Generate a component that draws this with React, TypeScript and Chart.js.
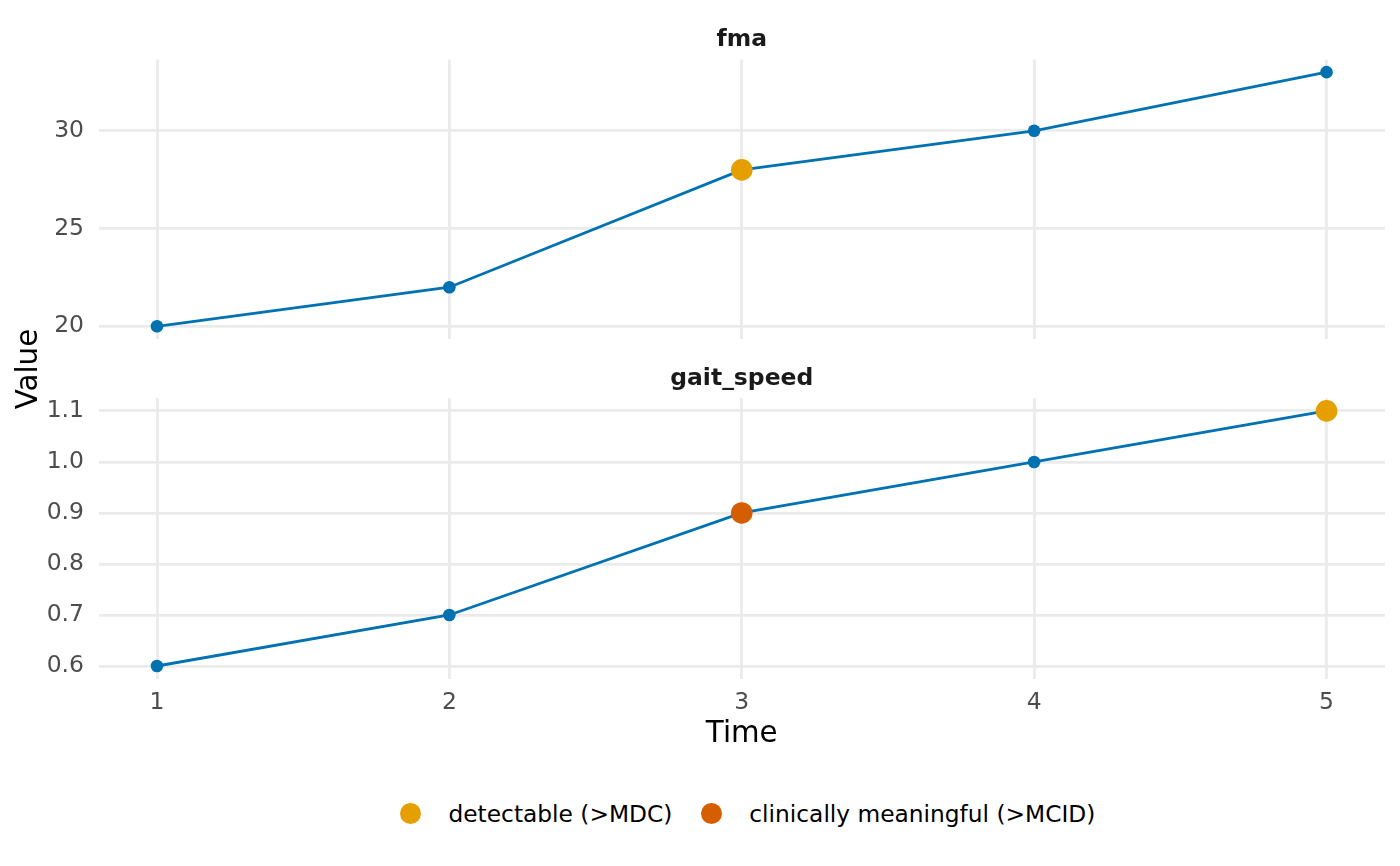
import { useEffect, useRef } from 'react';
import { Chart, registerables } from 'chart.js';

Chart.register(...registerables);
Chart.defaults.font.family = "'DejaVu Sans', sans-serif";

// data
const timePoints = [1, 2, 3, 4, 5];
const fmaValues = [20, 22, 28, 30, 33];
const gaitValues = [0.6, 0.7, 0.9, 1.0, 1.1];
// change flag per time point: '' none, 'mdc' detectable, 'mcid' clinically meaningful
const fmaFlags = ['', '', 'mdc', '', ''];
const gaitFlags = ['', '', 'mcid', '', 'mdc'];

const timeTicks = [1, 2, 3, 4, 5];
const fmaTicks = [20, 25, 30];
const gaitTicks = [0.6, 0.7, 0.8, 0.9, 1.0, 1.1];

const legendLabels = ['detectable (>MDC)', 'clinically meaningful (>MCID)'];
const legendFlags = ['mdc', 'mcid'];

const LINE = '#0072B2';
const FLAG_COLORS: Record<string, string> = { mdc: '#E69F00', mcid: '#D55E00' };
const GRID = '#ebebeb';
const TICK_SIZE = 23.47;
const TITLE_SIZE = 29.33;

// ggplot-style 5% expansion of the scale limits
function expand(values: number[]) {
  const lo = Math.min(...values);
  const hi = Math.max(...values);
  const pad = (hi - lo) * 0.05;
  return { min: lo - pad, max: hi + pad };
}

interface PanelProps {
  strip: string;
  values: number[];
  flags: string[];
  yTicks: number[];
  digits: number;
  bottom: boolean;
  height: number;
  areaBottom: number;
}

function Panel({ strip, values, flags, yTicks, digits, bottom, height, areaBottom }: PanelProps) {
  const canvasRef = useRef<HTMLCanvasElement>(null);

  useEffect(() => {
    if (!canvasRef.current) return;
    const xr = expand(timePoints);
    const yr = expand(values);

    const chart = new Chart(canvasRef.current, {
      type: 'line',
      data: {
        datasets: [
          {
            data: timePoints.map((t, i) => ({ x: t, y: values[i] })),
            borderColor: LINE,
            borderWidth: 2.8,
            pointRadius: flags.map((f) => (f ? 10.8 : 6.3)),
            pointBackgroundColor: flags.map((f) => (f ? FLAG_COLORS[f] : LINE)),
            pointBorderWidth: 0,
            pointHoverRadius: flags.map((f) => (f ? 10.8 : 6.3)),
            tension: 0,
            clip: false,
          },
        ],
      },
      options: {
        animation: false,
        responsive: true,
        maintainAspectRatio: false,
        layout: { padding: { left: 0, right: 15, top: 0, bottom: 0 } },
        plugins: {
          legend: { display: false },
          tooltip: { enabled: false },
          title: {
            display: true,
            text: strip,
            fullSize: false,
            color: '#1a1a1a',
            font: { size: TICK_SIZE, weight: 'bold' },
            padding: bottom ? { top: 20, bottom: 5 } : { top: 26, bottom: 5.3 },
          },
        },
        scales: {
          x: {
            type: 'linear',
            min: xr.min,
            max: xr.max,
            afterBuildTicks: (scale) => {
              scale.ticks = timeTicks.map((v) => ({ value: v }));
            },
            afterFit: (scale) => {
              scale.height = height - areaBottom;
            },
            grid: { color: GRID, lineWidth: 2.84, drawTicks: false },
            border: { display: false },
            ticks: {
              display: bottom,
              color: '#4d4d4d',
              font: { size: TICK_SIZE },
              padding: 10,
              callback: (v) => String(v),
            },
            title: {
              display: bottom,
              text: 'Time',
              color: '#000',
              font: { size: TITLE_SIZE },
              padding: { top: 0, bottom: 13 },
            },
          },
          y: {
            type: 'linear',
            min: yr.min,
            max: yr.max,
            afterBuildTicks: (scale) => {
              scale.ticks = yTicks.map((v) => ({ value: v }));
            },
            afterFit: (scale) => {
              scale.width = 98.5;
            },
            grid: { color: GRID, lineWidth: 2.84, drawTicks: false },
            border: { display: false },
            ticks: {
              color: '#4d4d4d',
              font: { size: TICK_SIZE },
              padding: 14.5,
              callback: (v) => Number(v).toFixed(digits),
            },
          },
        },
      },
    });

    return () => chart.destroy();
  }, [strip, values, flags, yTicks, digits, bottom, height, areaBottom]);

  return (
    <div style={{ position: 'relative', width: 1400, height }}>
      <canvas ref={canvasRef} />
    </div>
  );
}

export default function App() {
  return (
    <div
      style={{
        position: 'absolute',
        left: 0,
        top: 0,
        width: 1400,
        height: 866,
        background: '#fff',
        fontFamily: "'DejaVu Sans', sans-serif",
      }}
    >
      <div style={{ position: 'absolute', left: 0, top: 0 }}>
        <Panel strip="fma" values={fmaValues} flags={fmaFlags} yTicks={fmaTicks} digits={0} bottom={false} height={380} areaBottom={339} />
      </div>
      <div style={{ position: 'absolute', left: 0, top: 345 }}>
        <Panel strip="gait_speed" values={gaitValues} flags={gaitFlags} yTicks={gaitTicks} digits={1} bottom={true} height={420} areaBottom={333.75} />
      </div>

      {/* shared y title */}
      <div
        style={{
          position: 'absolute',
          left: 26.7 - 100,
          top: 369 - 20,
          width: 200,
          height: 40,
          lineHeight: '40px',
          textAlign: 'center',
          fontSize: TITLE_SIZE,
          color: '#000',
          transform: 'rotate(-90deg)',
        }}
      >
        Value
      </div>

      {/* legend */}
      <div
        style={{
          position: 'absolute',
          left: 400,
          top: 798.3,
          height: 30,
          display: 'flex',
          alignItems: 'center',
          fontSize: 23.3,
          color: '#000',
          whiteSpace: 'nowrap',
        }}
      >
        {legendLabels.map((label, i) => (
          <div key={label} style={{ display: 'flex', alignItems: 'center', marginRight: 28.5 }}>
            <span
              style={{
                display: 'inline-block',
                width: 21,
                height: 21,
                borderRadius: '50%',
                background: FLAG_COLORS[legendFlags[i]],
                marginRight: 27.5,
              }}
            />
            <span>{label}</span>
          </div>
        ))}
      </div>
    </div>
  );
}
